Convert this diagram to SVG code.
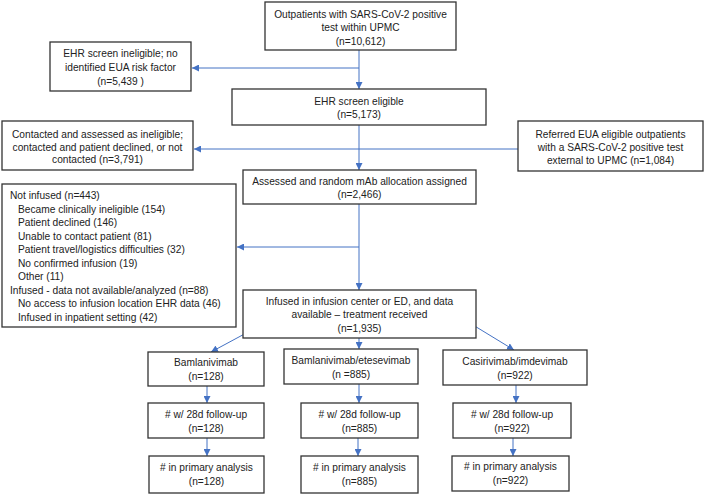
<svg xmlns="http://www.w3.org/2000/svg" width="710" height="495" viewBox="0 0 710 495">
<style>
.box{fill:#fff;stroke:#333;stroke-width:1.3}
text{font-family:"Liberation Sans",Arial,sans-serif;font-size:10.2px;fill:#222}
.c{text-anchor:middle}
.ln{stroke:#4472C4;stroke-width:1;fill:none}
</style>
<defs>
<marker id="ah" viewBox="0 0 10 10" refX="10" refY="5" markerWidth="7" markerHeight="7" markerUnits="userSpaceOnUse" orient="auto">
<path d="M0,0 L10,5 L0,10 z" fill="#4472C4"/>
</marker>
</defs>
<rect width="710" height="495" fill="#fff"/>
<g id="connectors">
<line class="ln" x1="359" y1="50" x2="359" y2="89" marker-end="url(#ah)"/>
<line class="ln" x1="359" y1="68" x2="192" y2="68" marker-end="url(#ah)"/>
<line class="ln" x1="359" y1="125" x2="359" y2="170" marker-end="url(#ah)"/>
<line class="ln" x1="518" y1="149" x2="194" y2="149" marker-end="url(#ah)"/>
<line class="ln" x1="359" y1="204" x2="359" y2="290" marker-end="url(#ah)"/>
<line class="ln" x1="359" y1="247" x2="237" y2="247" marker-end="url(#ah)"/>
<line class="ln" x1="250" y1="331" x2="211" y2="352" marker-end="url(#ah)"/>
<line class="ln" x1="359" y1="338" x2="359" y2="349" marker-end="url(#ah)"/>
<line class="ln" x1="473" y1="325" x2="514" y2="350" marker-end="url(#ah)"/>
<line class="ln" x1="207" y1="386" x2="207" y2="403" marker-end="url(#ah)"/>
<line class="ln" x1="359" y1="384" x2="359" y2="403" marker-end="url(#ah)"/>
<line class="ln" x1="516" y1="385" x2="516" y2="403" marker-end="url(#ah)"/>
<line class="ln" x1="207" y1="438" x2="207" y2="456" marker-end="url(#ah)"/>
<line class="ln" x1="358" y1="438" x2="358" y2="456" marker-end="url(#ah)"/>
<line class="ln" x1="513" y1="438" x2="513" y2="456" marker-end="url(#ah)"/>
</g>
<g id="n_outpatients">
<rect class="box" x="265" y="2" width="191" height="48"/>
<text class="c" x="360.5" y="18">Outpatients with SARS-CoV-2 positive</text>
<text class="c" x="360.5" y="31">test within UPMC</text>
<text class="c" x="360.5" y="45">(n=10,612)</text>
</g>
<g id="n_ehr_inel">
<rect class="box" x="50" y="42" width="141" height="49"/>
<text class="c" x="120.5" y="57">EHR screen ineligible; no</text>
<text class="c" x="120.5" y="71">identified EUA risk factor</text>
<text class="c" x="120.5" y="85">(n=5,439 )</text>
</g>
<g id="n_ehr_el">
<rect class="box" x="232" y="89" width="254" height="36"/>
<text class="c" x="359" y="105">EHR screen eligible</text>
<text class="c" x="359" y="118">(n=5,173)</text>
</g>
<g id="n_contacted">
<rect class="box" x="2" y="121" width="191" height="49"/>
<text class="c" x="97.5" y="138">Contacted and assessed as ineligible;</text>
<text class="c" x="97.5" y="151">contacted and patient declined, or not</text>
<text class="c" x="97.5" y="163">contacted (n=3,791)</text>
</g>
<g id="n_referred">
<rect class="box" x="518" y="121" width="185" height="50"/>
<text class="c" x="610.5" y="138">Referred  EUA eligible outpatients</text>
<text class="c" x="610.5" y="151">with a SARS-CoV-2 positive test</text>
<text class="c" x="610.5" y="164">external to UPMC (n=1,084)</text>
</g>
<g id="n_assessed">
<rect class="box" x="243" y="170" width="233" height="34"/>
<text class="c" x="359.5" y="185">Assessed and random mAb allocation assigned</text>
<text class="c" x="359.5" y="198">(n=2,466)</text>
</g>
<g id="n_notinfused">
<rect class="box" x="2" y="184" width="234" height="143"/>
<text x="10" y="199">Not infused (n=443)</text>
<text x="18" y="212.5">Became clinically ineligible (154)</text>
<text x="18" y="226">Patient declined (146)</text>
<text x="18" y="239.5">Unable to contact patient (81)</text>
<text x="18" y="253">Patient travel/logistics difficulties (32)</text>
<text x="18" y="266.5">No confirmed infusion (19)</text>
<text x="18" y="280">Other (11)</text>
<text x="10" y="293.5">Infused - data not available/analyzed (n=88)</text>
<text x="18" y="307">No access to infusion location EHR data (46)</text>
<text x="18" y="320.5">Infused in inpatient setting (42)</text>
</g>
<g id="n_infused">
<rect class="box" x="243" y="290" width="233" height="48"/>
<text class="c" x="359.5" y="305">Infused in infusion center or ED, and data</text>
<text class="c" x="359.5" y="318">available – treatment received</text>
<text class="c" x="359.5" y="332">(n=1,935)</text>
</g>
<g id="n_bam">
<rect class="box" x="148" y="352" width="116" height="34"/>
<text class="c" x="206" y="366">Bamlanivimab</text>
<text class="c" x="206" y="380">(n=128)</text>
</g>
<g id="n_bamete">
<rect class="box" x="284" y="349" width="134" height="35"/>
<text class="c" x="351" y="364">Bamlanivimab/etesevimab</text>
<text class="c" x="351" y="378">(n =885)</text>
</g>
<g id="n_casi">
<rect class="box" x="443" y="350" width="144" height="35"/>
<text class="c" x="515" y="365">Casirivimab/imdevimab</text>
<text class="c" x="515" y="379">(n=922)</text>
</g>
<g id="n_fu1">
<rect class="box" x="148" y="403" width="116" height="35"/>
<text class="c" x="206" y="418">#  w/ 28d follow-up</text>
<text class="c" x="206" y="432">(n=128)</text>
</g>
<g id="n_fu2">
<rect class="box" x="301" y="403" width="117" height="35"/>
<text class="c" x="359.5" y="418">#  w/ 28d follow-up</text>
<text class="c" x="359.5" y="432">(n=885)</text>
</g>
<g id="n_fu3">
<rect class="box" x="453" y="403" width="118" height="35"/>
<text class="c" x="512" y="418">#  w/ 28d follow-up</text>
<text class="c" x="512" y="432">(n=922)</text>
</g>
<g id="n_pa1">
<rect class="box" x="149" y="456" width="115" height="37"/>
<text class="c" x="206.5" y="471">#  in primary analysis</text>
<text class="c" x="206.5" y="485">(n=128)</text>
</g>
<g id="n_pa2">
<rect class="box" x="301" y="456" width="117" height="37"/>
<text class="c" x="359.5" y="471">#  in primary analysis</text>
<text class="c" x="359.5" y="485">(n=885)</text>
</g>
<g id="n_pa3">
<rect class="box" x="452" y="456" width="117" height="35"/>
<text class="c" x="510.5" y="470">#  in primary analysis</text>
<text class="c" x="510.5" y="484">(n=922)</text>
</g>
</svg>
